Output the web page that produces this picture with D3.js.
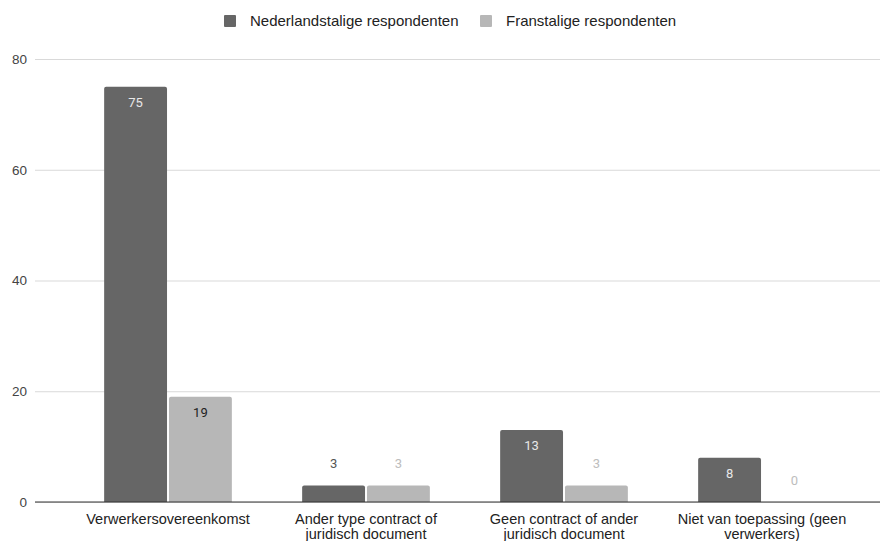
<!DOCTYPE html>
<html><head><meta charset="utf-8">
<script src="https://cdn.jsdelivr.net/npm/d3@7"></script>
<style>body{margin:0;background:#fff}svg{display:block;font-family:"Liberation Sans",Arial,sans-serif}</style>
</head><body>
<svg id="c" width="888" height="541"></svg>
<script>
const categories = [
  ["Verwerkersovereenkomst"],
  ["Ander type contract of", "juridisch document"],
  ["Geen contract of ander", "juridisch document"],
  ["Niet van toepassing (geen", "verwerkers)"]
];
const seriesNames = ["Nederlandstalige respondenten", "Franstalige respondenten"];
const nlValues = [75, 3, 13, 8];
const frValues = [19, 3, 3, 0];
const yTicks = [0, 20, 40, 60, 80];
const colors = ["#666666", "#b7b7b7"];

const svg = d3.select("#c");
const gridL = 35, gridR = 880;
const x0 = d3.scaleBand().domain(d3.range(categories.length)).range([69, 861]).paddingInner(0.355).paddingOuter(0.1775);
const x1 = d3.scaleBand().domain([0,1]).range([0, x0.bandwidth()]).paddingInner(0.03);
const y = d3.scaleLinear().domain([0, 80]).range([502, 59]);

// gridlines
const yAxis = d3.axisLeft(y).tickValues(yTicks).tickSize(-(gridR-gridL)).tickPadding(10);
const ga = svg.append("g").attr("transform", `translate(${gridL},0)`).call(yAxis);
ga.select(".domain").remove();
ga.selectAll(".tick line").attr("stroke", "#d9d9d9").attr("stroke-width", 1);
ga.selectAll(".tick text").attr("fill", "#444").attr("font-size", 13.5).attr("x", -8)
  .attr("font-family", "\"Liberation Sans\",Arial,sans-serif");

const series = [nlValues, frValues];
const r = 2;
function barPath(x, w, yTop, yBase) {
  const h = yBase - yTop;
  if (h <= 0) return "";
  const rr = Math.min(r, h);
  return `M${x},${yBase}V${yTop+rr}Q${x},${yTop} ${x+rr},${yTop}H${x+w-rr}Q${x+w},${yTop} ${x+w},${yTop+rr}V${yBase}Z`;
}
series.forEach((vals, s) => {
  const g = svg.append("g");
  g.selectAll("path").data(vals).join("path")
    .attr("d", (v, i) => barPath(x0(i) + x1(s), x1.bandwidth(), y(v), y(0)))
    .attr("fill", colors[s]);
  g.selectAll("text").data(vals).join("text")
    .attr("x", (v, i) => x0(i) + x1(s) + x1.bandwidth()/2)
    .attr("y", v => (y(0) - y(v) > 25) ? y(v) + 20 : y(v) - 17)
    .attr("text-anchor", "middle")
    .attr("font-family", "Roboto,Arial,sans-serif")
    .attr("font-size", 13)
    .attr("fill", v => {
      const inside = y(0) - y(v) > 25;
      if (s === 0) return inside ? "#e8e8e8" : "#555";
      return inside ? "#222" : "#bdbdbd";
    })
    .text(v => v);
});

// baseline
svg.append("line").attr("x1", gridL).attr("x2", gridR).attr("y1", y(0)).attr("y2", y(0)).attr("stroke", "#333").attr("stroke-width", 1);

// category labels
const cat = svg.append("g");
categories.forEach((lines, i) => {
  const cx = x0(i) + x0.bandwidth()/2;
  const t = cat.append("text").attr("text-anchor", "middle").attr("font-size", 14.5).attr("fill", "#222")
    .attr("x", cx).attr("y", 524);
  lines.forEach((ln, j) => t.append("tspan").attr("x", cx).attr("dy", j ? 15 : 0).text(ln));
});

// legend
const leg = svg.append("g");
const legX = [224, 480];
seriesNames.forEach((n, s) => {
  leg.append("rect").attr("x", legX[s]).attr("y", 15).attr("width", 12).attr("height", 12).attr("rx", 1).attr("fill", colors[s]);
  leg.append("text").attr("x", legX[s] + 26).attr("y", 26).attr("font-size", 15).attr("fill", "#222").text(n);
});
</script>
</body></html>
